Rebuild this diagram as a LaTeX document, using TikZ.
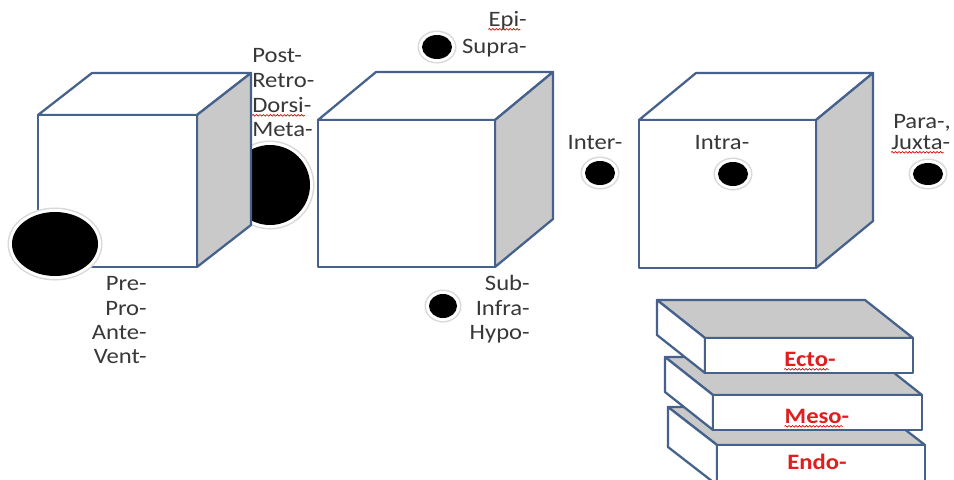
\documentclass[tikz,border=0pt]{standalone}
\usepackage{fontspec}
\setmainfont{Carlito}[FakeStretch=1.12]
\usetikzlibrary{decorations.pathmorphing}
\definecolor{edge}{HTML}{46628C}
\definecolor{side}{HTML}{C9C9C9}
\definecolor{txt}{HTML}{383838}
\definecolor{redtxt}{HTML}{E01E1E}
\tikzset{
  face/.style={draw=edge, line width=1.7pt, line join=round, fill=white},
  shadeface/.style={draw=edge, line width=1.7pt, line join=round, fill=side},
  lbl/.style={inner sep=0pt, text=txt, font=\fontsize{16.5}{18.4}\selectfont},
  redlbl/.style={inner sep=0pt, text=redtxt, font=\fontsize{16.5}{18.4}\selectfont\bfseries},
  squig/.style={draw=red!85!black, line width=0.5pt, decorate,
    decoration={snake, amplitude=0.6pt, segment length=2.6pt}},
  halo1/.style={fill=black!15},
  halo2/.style={fill=white},
  dot/.style={fill=black}
}
\newcommand\spot[4]{% x, y, rx, ry
  \fill[halo1] (#1,#2) ellipse [x radius=#3+4.5, y radius=#4+4.5];
  \fill[halo2] (#1,#2) ellipse [x radius=#3+3, y radius=#4+3];
  \fill[dot] (#1,#2) ellipse [x radius=#3, y radius=#4];
}
\newcommand\cubeshape[6]{% left top right bottom dx dy
  \draw[face] (#1,#2) -- ++(#5,#6) -- (#3+#5,#2+#6) -- (#3,#2) -- cycle;
  \draw[shadeface] (#3,#2) -- (#3+#5,#2+#6) -- (#3+#5,#4+#6) -- (#3,#4) -- cycle;
  \draw[face] (#1,#2) rectangle (#3,#4);
}
\newcommand\slabshape[6]{% left top right bottom dx dy
  \draw[shadeface] (#1,#2) -- (#1+#5,#2+#6) -- (#3+#5,#2+#6) -- (#3,#2) -- cycle;
  \draw[face] (#1,#2) -- (#1+#5,#2+#6) -- (#1+#5,#4+#6) -- (#1,#4) -- cycle;
  \draw[face] (#1,#2) rectangle (#3,#4);
}
\begin{document}
\begin{tikzpicture}[x=0.75pt, y=-0.75pt]
\useasboundingbox (0,0) rectangle (954,479);
\fill[white] (0,0) rectangle (954,479);

% circle behind cube 1
\spot{270}{185}{40}{40}
% cube 1
\cubeshape{38}{115}{197}{267}{54}{-42}
% big circle in front
\spot{55}{244}{43}{32}
% cube 2
\cubeshape{318}{120}{495}{267}{58}{-48}
% cube 3
\cubeshape{639}{120}{816}{268}{57}{-47}

% small circles
\spot{437}{47}{15}{12}
\spot{443}{306}{14}{12}
\spot{600}{173}{15}{12}
\spot{733}{174}{15}{12}
\spot{928}{174}{15}{11}

% slabs
\slabshape{717}{445}{925}{485}{-49}{-38}
\slabshape{713}{395}{922}{430}{-48}{-38}
\slabshape{705}{338}{913}{373}{-48}{-38}

% labels
\node[lbl, anchor=base west] (post) at (252,62) {Post-};
\node[lbl, anchor=base west] (retro) at (252,87) {Retro-};
\node[lbl, anchor=base west] (dorsi) at (252,112) {Dorsi-};
\node[lbl, anchor=base west] (meta) at (252,136) {Meta-};

\node[lbl, anchor=base east] (pre) at (147,290) {Pre-};
\node[lbl, anchor=base east] (pro) at (147,315) {Pro-};
\node[lbl, anchor=base east] (ante) at (147,339) {Ante-};
\node[lbl, anchor=base east] (vent) at (147,363) {Vent-};

\node[lbl, anchor=base east] (epi) at (527,26) {Epi-};
\node[lbl, anchor=base east] (supra) at (527,53) {Supra-};

\node[lbl, anchor=base east] (sub) at (530,290) {Sub-};
\node[lbl, anchor=base east] (infra) at (530,315) {Infra-};
\node[lbl, anchor=base east] (hypo) at (530,339) {Hypo-};

\node[lbl, anchor=base] (inter) at (595,149) {Inter-};
\node[lbl, anchor=base] (intra) at (722,149) {Intra-};
\node[lbl, anchor=base west] (para) at (893,128) {Para-,};
\node[lbl, anchor=base west] (juxta) at (891,149) {Juxta-};

\node[redlbl, anchor=base] (ecto) at (810,366) {Ecto-};
\node[redlbl, anchor=base] (meso) at (817,423) {Meso-};
\node[redlbl, anchor=base] (endo) at (817,469) {Endo-};

% spell-check squiggles
\draw[squig] ([yshift=-2.5pt]dorsi.base west) -- ([yshift=-2.5pt,xshift=-5pt]dorsi.base east);
\draw[squig] ([yshift=-2.5pt]epi.base west) -- ([yshift=-2.5pt,xshift=-5pt]epi.base east);
\draw[squig] ([yshift=-2.5pt]juxta.base west) -- ([yshift=-2.5pt,xshift=-5pt]juxta.base east);
\draw[squig] ([yshift=-2.5pt]ecto.base west) -- ([yshift=-2.5pt,xshift=-5pt]ecto.base east);
\draw[squig] ([yshift=-2.5pt]meso.base west) -- ([yshift=-2.5pt,xshift=-5pt]meso.base east);
\end{tikzpicture}
\end{document}
